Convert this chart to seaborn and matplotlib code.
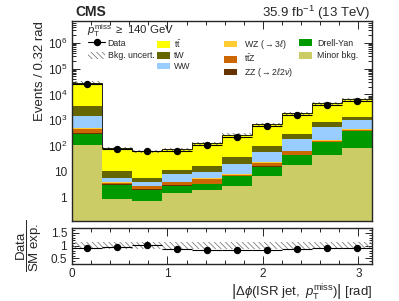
import numpy as np
import pandas as pd
import seaborn as sns
import matplotlib.pyplot as plt
from matplotlib.patches import Patch
from matplotlib.lines import Line2D
from matplotlib.ticker import MultipleLocator, FixedLocator, LogLocator, NullFormatter

sns.set_style("ticks")
plt.rcParams['font.family'] = ['Liberation Sans', 'DejaVu Sans']
plt.rcParams['mathtext.fontset'] = 'custom'
plt.rcParams['mathtext.rm'] = 'Liberation Sans'
plt.rcParams['mathtext.it'] = 'Liberation Sans:italic'
plt.rcParams['mathtext.bf'] = 'Liberation Sans:bold'
plt.rcParams['mathtext.sf'] = 'Liberation Sans'
plt.rcParams['hatch.linewidth'] = 0.6

# 10 bins in |dphi(ISR jet, ptmiss)| from 0 to pi
nbins = 10
edges = np.linspace(0, np.pi, nbins + 1)
centers = 0.5 * (edges[1:] + edges[:-1])

# expected events per bin, top of stack first
procs = [r"t$\bar{\rm t}$", "tW", "WW", r"WZ ($\rightarrow 3\ell$)", r"t$\bar{\rm t}$Z",
         r"ZZ ($\rightarrow 2\ell 2\nu$)", "Drell-Yan", "Minor bkg."]
ttbar = [25200, 71.5, 58.2, 62.7, 109, 238, 613, 1592, 3626, 4990]
tw = [2260, 4.9, 1.7, 3.7, 7.5, 15, 43, 102, 297, 370]
ww = [940, 1.7, 1.2, 4.4, 3.8, 12.6, 36.3, 114, 351, 560]
wz = [60, 0.2, 0.1, 0.3, 0.5, 0.6, 1.7, 5, 16, 40]
ttz = [120, 0.4, 0.7, 0.9, 1.8, 0.9, 5.5, 16, 15, 15]
zz = [20, 0.1, 0.1, 0.1, 0.1, 0.2, 0.5, 2, 3, 5]
dy = [188, 2.3, 1.28, 1.43, 1.4, 3.85, 8.8, 25.3, 99, 294]
minor = [112, 0.89, 0.72, 1.47, 2.0, 2.85, 7.2, 18.7, 43, 86]
colors = ["#ffff00", "#666600", "#99ccff", "#ffcc33", "#cc6600", "#663300", "#009900", "#cccc66"]

data = [26000, 78, 66, 64, 105, 222, 594, 1650, 4050, 5790]
rel_unc = 0.13

vals = [ttbar, tw, ww, wz, ttz, zz, dy, minor]
df = pd.DataFrame({
    "dphi": np.tile(centers, len(procs)),
    "events": np.concatenate(vals),
    "process": np.repeat(procs, nbins),
})
total = np.sum(vals, axis=0)
data = np.array(data, dtype=float)

fig = plt.figure(figsize=(3.99, 3.01), dpi=100)
W, H = 399, 301
ax = fig.add_axes([72 / W, 1 - 220.5 / H, 300 / W, 199.5 / H])
rax = fig.add_axes([72 / W, 1 - 263.5 / H, 300 / W, 36 / H])

sns.histplot(data=df, x="dphi", weights="events", hue="process", hue_order=procs,
             palette=colors, multiple="stack", bins=list(edges), element="bars",
             alpha=1, linewidth=0, shrink=1, legend=False, ax=ax)
ax.set_yscale("log")
hatch = "\\\\\\\\\\\\"
ax.bar(edges[:-1], 2 * rel_unc * total, bottom=total * (1 - rel_unc), width=np.diff(edges),
       align="edge", fill=False, hatch=hatch, edgecolor="0.45", linewidth=0)
ax.stairs(total, edges, color="k", linewidth=0.6)
ax.errorbar(centers, data, yerr=np.sqrt(data), xerr=np.diff(edges) / 2, fmt="o",
            color="k", ms=4.3, elinewidth=0.8, capsize=0, zorder=5)

ax.set_xlim(0, np.pi)
ax.set_ylim(0.13, 7e6)
ax.set_xlabel("")
ax.set_ylabel("Events / 0.32 rad", loc="top", fontsize=9.5, labelpad=1)
ax.set_xticklabels([])
ax.yaxis.set_major_locator(FixedLocator([1, 10, 1e2, 1e3, 1e4, 1e5, 1e6]))
ax.set_yticklabels(["1", "10", "$10^2$", "$10^3$", "$10^4$", "$10^5$", "$10^6$"])
ax.yaxis.set_minor_locator(LogLocator(base=10, subs=np.arange(2, 10), numticks=20))
ax.yaxis.set_minor_formatter(NullFormatter())

# ratio panel
ratio = data / total
rax.bar(edges[:-1], 2 * rel_unc, bottom=1 - rel_unc, width=np.diff(edges), align="edge",
        fill=False, hatch=hatch, edgecolor="0.5", linewidth=0)
rax.errorbar(centers, ratio, yerr=np.sqrt(data) / total, xerr=np.diff(edges) / 2, fmt="o",
             color="k", ms=4.3, elinewidth=0.8, capsize=0, zorder=5)
rax.set_xlim(0, np.pi)
rax.set_ylim(0.3, 1.7)
rax.yaxis.set_major_locator(FixedLocator([0.5, 1, 1.5]))
rax.set_yticklabels(["0.5", "1", "1.5"])
rax.yaxis.set_minor_locator(MultipleLocator(0.1))
rax.set_ylabel(r"$\dfrac{\mathrm{Data}}{\mathrm{SM\ exp.}}$", fontsize=9.5, labelpad=5)
rax.set_xlabel(r"$\left|\Delta\phi(\mathrm{ISR\ jet},\ p_{\mathrm{T}}^{\mathrm{miss}})\right|$ [rad]",
               loc="right", fontsize=9.5, labelpad=1)

for a in (ax, rax):
    a.xaxis.set_major_locator(MultipleLocator(1))
    a.xaxis.set_minor_locator(MultipleLocator(0.2))
    a.tick_params(which="both", direction="in", top=True, right=True, labelsize=8.5, width=0.7)
    a.tick_params(which="major", length=6)
    a.tick_params(which="minor", length=3)
    for s in a.spines.values():
        s.set_linewidth(1.0)
rax.tick_params(axis="y", which="major", length=5)
rax.tick_params(axis="y", which="minor", length=2.5)

# texts
fig.text(75 / W, 1 - 15.5 / H, "CMS", fontsize=10, fontweight="bold", va="baseline")
fig.text(370 / W, 1 - 16.5 / H, r"35.9 fb$^{-1}$ (13 TeV)", fontsize=9.5, ha="right", va="baseline")
fig.text(87 / W, 1 - 34 / H, r"$p_{\mathrm{T}}^{\mathrm{miss}}\ \geq$ 140 GeV", fontsize=8.2, va="baseline")

# legend columns
fs = 6.3
col1 = [Line2D([], [], color="k", marker="o", ms=4.3, lw=0.8),
        Patch(facecolor="white", edgecolor="0.5", hatch=hatch, linewidth=0)]
lab1 = ["Data", "Bkg. uncert."]
p = [Patch(facecolor=c, linewidth=0) for c in colors]
cols = [(col1, lab1, 88, 1.95, 0.3, 0.45, 38.5),
        (p[0:3], procs[0:3], 157, 1.5, 0.45, 0.2, 38),
        (p[3:6], procs[3:6], 224, 1.5, 0.8, 0.2, 38),
        (p[6:8], procs[6:8], 299, 1.5, 0.55, 0.45, 38.5)]
for hs, ls, x0, hl, tp, sp, y0 in cols:
    fig.legend(hs, ls, loc="upper left", bbox_to_anchor=(x0 / W, 1 - y0 / H),
               bbox_transform=fig.transFigure, frameon=False, fontsize=fs,
               borderpad=0, borderaxespad=0, handlelength=hl, handleheight=0.8,
               handletextpad=tp, labelspacing=sp)

fig.savefig("out.png", dpi=100)
